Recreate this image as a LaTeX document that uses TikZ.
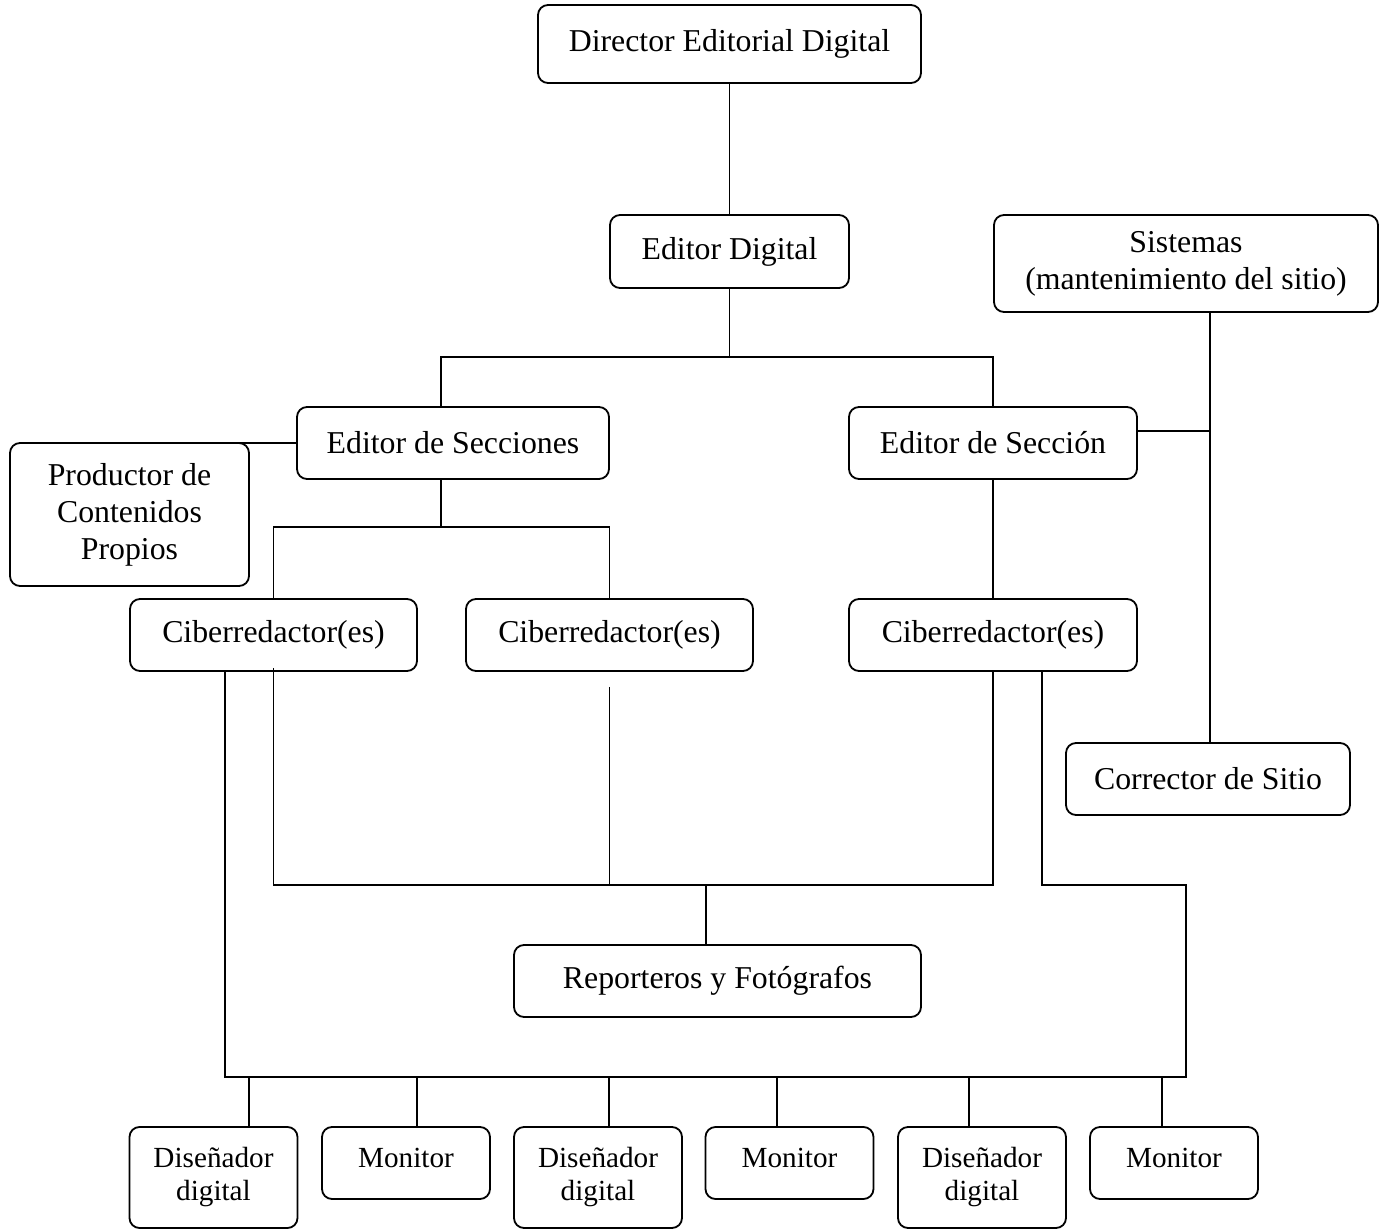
\documentclass[tikz,border=0pt]{standalone}
\usepackage{fontspec}
\setmainfont{Liberation Serif}
\usepackage{tikz}

\begin{document}
\begin{tikzpicture}[x=0.5pt, y=-0.5pt,
  orgBox/.style={draw, rounded corners=5pt, line width=0.9pt, align=center,
    inner sep=0pt, minimum height=36pt, font=\fontsize{15.9}{18.5}\selectfont},
  lowBox/.style={orgBox, minimum width=84pt, font=\fontsize{14.6}{16.5}\selectfont},
  monBox/.style={lowBox, text depth=5pt},
  link/.style={line width=0.8pt}]
  \useasboundingbox (0,0) rectangle (1381,1230);

  % Top of the chart
  \node[orgBox, minimum width=191.5pt, minimum height=39pt] (dir) at (729.5,44)
    {Director Editorial Digital};
  \node[orgBox, minimum width=119.5pt, minimum height=36.5pt] (edig) at (729.5,251.5)
    {Editor Digital};
  \node[orgBox, minimum width=192pt, minimum height=48.5pt] (sis) at (1186,263.5)
    {Sistemas\\(mantenimiento del sitio)};

  % Section editors
  \node[orgBox, minimum width=156pt] (esecs) at (453,443) {Editor de Secciones};
  \node[orgBox, minimum width=144pt] (esec) at (993,443) {Editor de Sección};
  \node[orgBox, minimum width=119.5pt, minimum height=71.5pt] (prod) at (129.5,514.5)
    {Productor de\\Contenidos\\Propios};

  % Writers
  \node[orgBox, minimum width=143.5pt] (cib1) at (273.5,635) {Ciberredactor(es)};
  \node[orgBox, minimum width=143.5pt] (cib2) at (609.5,635) {Ciberredactor(es)};
  \node[orgBox, minimum width=144pt] (cib3) at (993,635) {Ciberredactor(es)};
  \node[orgBox, minimum width=142pt] (corr) at (1208,779) {Corrector de Sitio};
  \node[orgBox, minimum width=203.5pt] (rep) at (717.5,981) {Reporteros y Fotógrafos};

  % Bottom row
  \node[lowBox, minimum height=50.5pt] (dis1) at (213.5,1177.5) {Diseñador\\digital};
  \node[monBox] (mon1) at (406,1163) {Monitor};
  \node[lowBox, minimum height=50.5pt] (dis2) at (598,1177.5) {Diseñador\\digital};
  \node[monBox] (mon2) at (789.5,1163) {Monitor};
  \node[lowBox, minimum height=50.5pt] (dis3) at (982,1177.5) {Diseñador\\digital};
  \node[monBox] (mon3) at (1174,1163) {Monitor};

  % Junction points
  \coordinate (split1) at (729.5,357);
  \coordinate (split2) at (441,527);
  \coordinate (sysLine) at (1210,431);
  \coordinate (busR) at (706,885);
  \coordinate (busE) at (1186,1077);

  % Upper connectors
  \draw[link] (dir) -- (edig);
  \draw[link] (edig.south) -- (split1);
  \draw[link] ([xshift=-6pt]esecs.north) |- (split1) -| (esec.north);
  \draw[link] (esecs.west) -- ++(-72,0);
  \draw[link] ([xshift=-6pt]esecs.south) -- (split2);
  \draw[link] (cib1.north) |- (split2) -| (cib2.north);
  \draw[link] (esec) -- (cib3);
  \draw[link] (sis.south -| sysLine) -- (corr.north -| sysLine);
  \draw[link] (esec.east |- sysLine) -- (sysLine);

  % Lower connectors
  \draw[link] ([yshift=2pt]cib1.south) |- (busR -| cib3.south) -- (cib3.south);
  \draw[link] ([yshift=-7.5pt]cib2.south) -- (cib2.south |- busR);
  \draw[link] (busR) -- (rep.north -| busR);
  \draw[link] ([xshift=-24.25pt]cib1.south) |- (busE)
    |- ([xshift=24.5pt]cib3.south |- busR) -- ([xshift=24.5pt]cib3.south);
  \foreach \n/\dx in {dis1/17.75,mon1/5.5,dis2/5.5,mon2/-6.25,dis3/-6.5,mon3/-6}{
    \draw[link] ([xshift=\dx pt]\n.north) -- ([xshift=\dx pt]\n.north |- busE);
  }
\end{tikzpicture}
\end{document}
